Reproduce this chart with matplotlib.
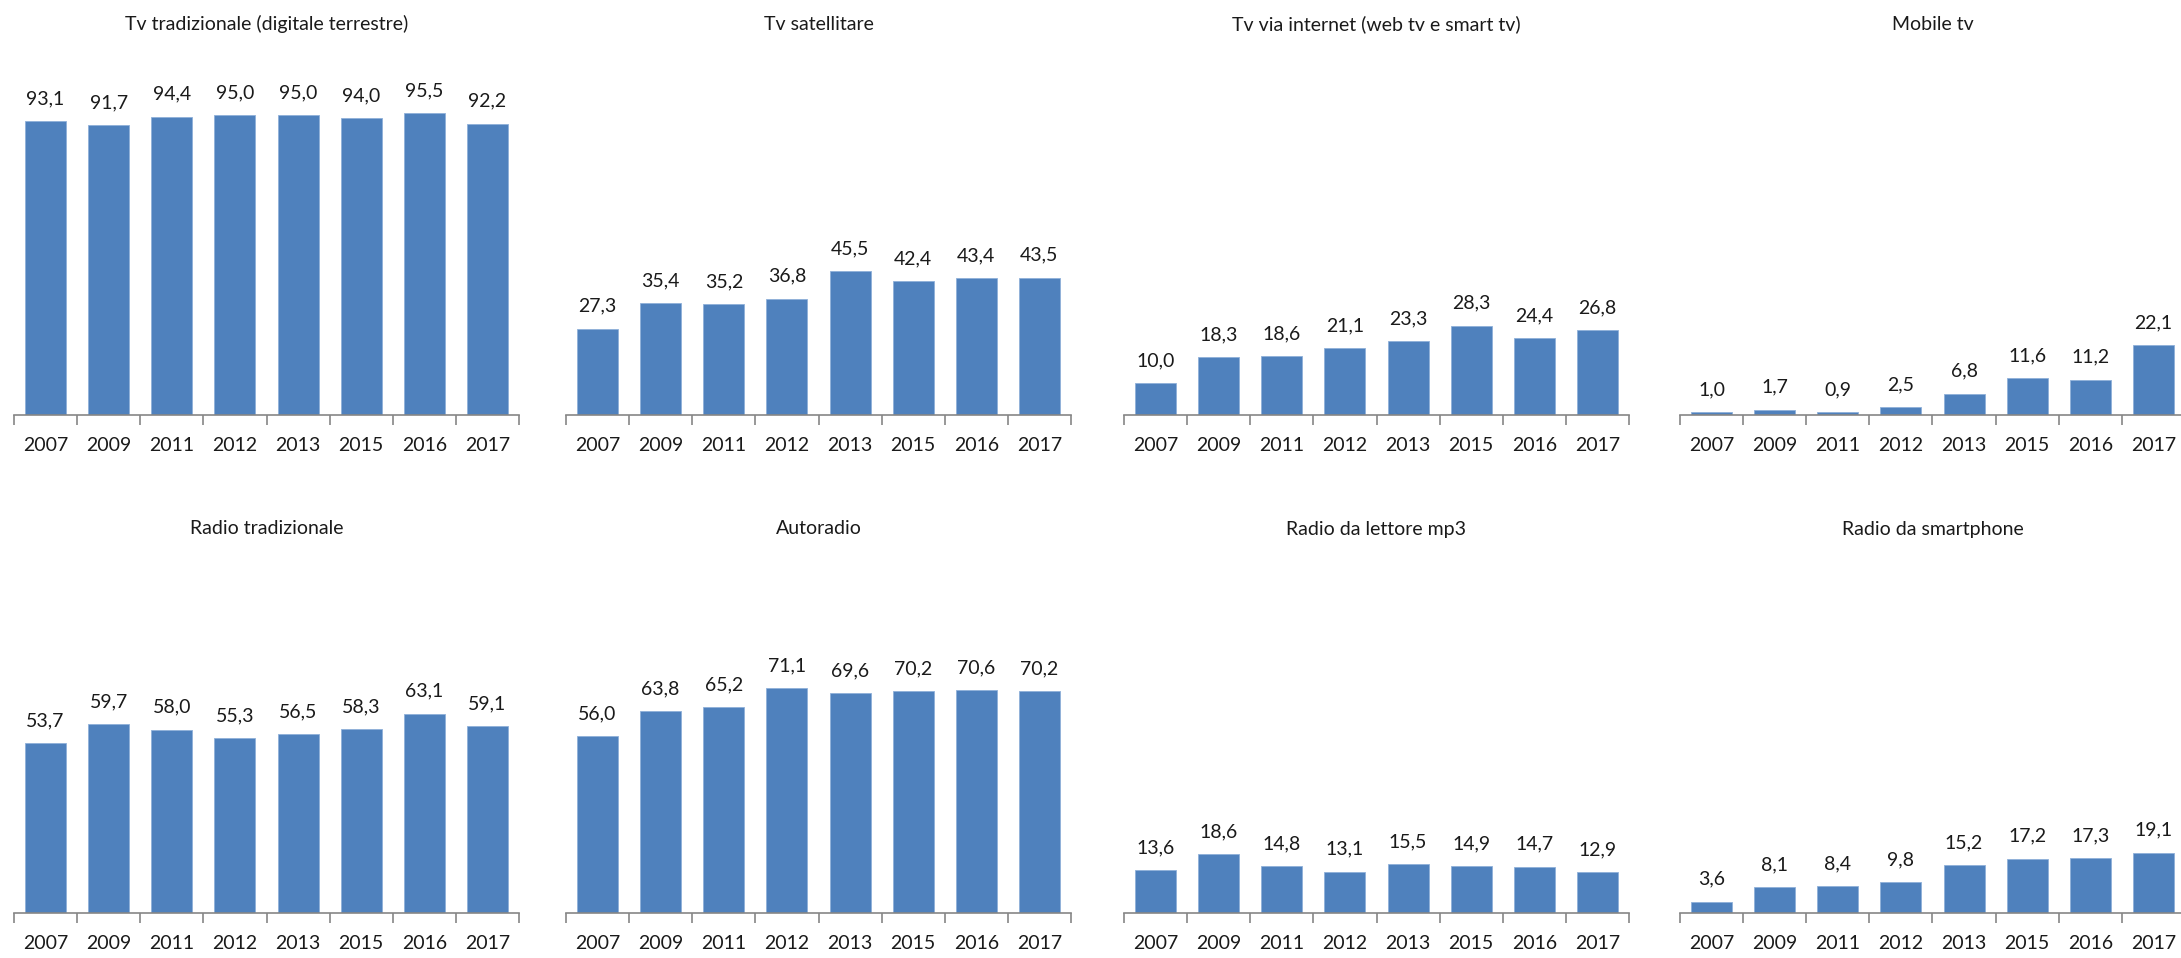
import numpy as np
import matplotlib.pyplot as plt

plt.rcParams['font.family'] = ['Lato', 'DejaVu Sans']

# Dati
anni = ['2007', '2009', '2011', '2012', '2013', '2015', '2016', '2017']
titoli = ['Tv tradizionale (digitale terrestre)', 'Tv satellitare',
          'Tv via internet (web tv e smart tv)', 'Mobile tv',
          'Radio tradizionale', 'Autoradio', 'Radio da lettore mp3',
          'Radio da smartphone']
tv_tradizionale = [93.1, 91.7, 94.4, 95.0, 95.0, 94.0, 95.5, 92.2]
tv_satellitare = [27.3, 35.4, 35.2, 36.8, 45.5, 42.4, 43.4, 43.5]
tv_internet = [10.0, 18.3, 18.6, 21.1, 23.3, 28.3, 24.4, 26.8]
mobile_tv = [1.0, 1.7, 0.9, 2.5, 6.8, 11.6, 11.2, 22.1]
radio_tradizionale = [53.7, 59.7, 58.0, 55.3, 56.5, 58.3, 63.1, 59.1]
autoradio = [56.0, 63.8, 65.2, 71.1, 69.6, 70.2, 70.6, 70.2]
radio_mp3 = [13.6, 18.6, 14.8, 13.1, 15.5, 14.9, 14.7, 12.9]
radio_smartphone = [3.6, 8.1, 8.4, 9.8, 15.2, 17.2, 17.3, 19.1]

serie = [tv_tradizionale, tv_satellitare, tv_internet, mobile_tv,
         radio_tradizionale, autoradio, radio_mp3, radio_smartphone]

W, H = 2181, 958
fig = plt.figure(figsize=(W / 100, H / 100), dpi=100)

lefts = [14, 566, 1124, 1680]
width = 505
rows = [(415, 316, 24), (913, 316, 529)]  # baseline, height, title y (pixel)

x = np.arange(len(anni))
for i, (tit, vals) in enumerate(zip(titoli, serie)):
    r, c = divmod(i, 4)
    base, h, ty = rows[r]
    ax = fig.add_axes([lefts[c] / W, 1 - base / H, width / W, h / H])
    ax.bar(x, vals, width=0.65, color='#4F81BD', edgecolor='#8FB0D9', linewidth=0.6)
    ax.set_xlim(-0.5, len(anni) - 0.5)
    ax.set_ylim(0, 100)
    for s in ['top', 'right', 'left']:
        ax.spines[s].set_visible(False)
    ax.spines['bottom'].set_color('#868686')
    ax.spines['bottom'].set_linewidth(1.2)
    ax.set_yticks([])
    ax.set_xticks(x)
    ax.set_xticklabels(anni, fontsize=14, color='#1a1a1a')
    ax.tick_params(axis='x', which='major', length=0, pad=16)
    ax.set_xticks(np.arange(-0.5, len(anni)), minor=True)
    ax.tick_params(axis='x', which='minor', length=7, width=1.2, color='#868686')
    for xi, v in zip(x, vals):
        ax.annotate(f'{v:.1f}'.replace('.', ','), (xi, v), xytext=(0, 10),
                    textcoords='offset points', ha='center', va='bottom',
                    fontsize=14, color='#1a1a1a')
    fig.text((lefts[c] + width / 2) / W, 1 - ty / H, tit, ha='center',
             va='center', fontsize=14, color='#1a1a1a')

fig.savefig('out.png', dpi=100)
